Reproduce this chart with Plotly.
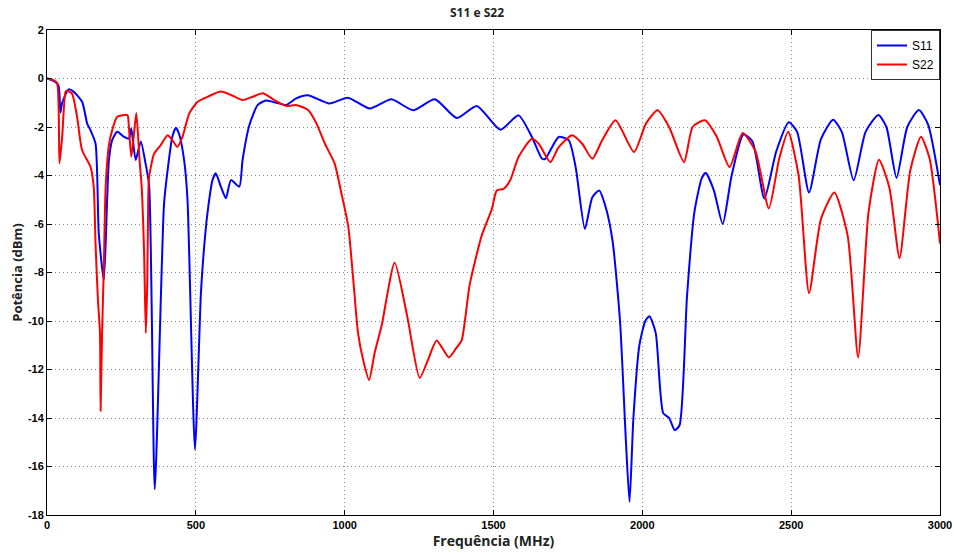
import plotly.graph_objects as go

# S11 (blue)
s11_f = [0, 28, 39, 45, 51, 73, 90, 118, 135, 146, 163, 174, 191, 202, 208, 219, 236, 259, 275, 283, 289, 298, 315, 331, 343,
         362, 393, 405, 421, 433, 444, 461, 472, 497, 517, 528, 539, 556, 567, 584, 601, 618, 646, 657, 680, 708, 736, 770,
         804, 837, 876, 949, 1011, 1084, 1157, 1230, 1303, 1377, 1444, 1523, 1584, 1629, 1663, 1674, 1719, 1753, 1776, 1807,
         1832, 1855, 1877, 1900, 1925, 1945, 1957, 1970, 1990, 2010, 2024, 2045, 2070, 2090, 2109, 2125, 2150, 2175, 2200,
         2213, 2240, 2270, 2300, 2340, 2370, 2410, 2450, 2492, 2520, 2560, 2600, 2641, 2670, 2710, 2750, 2793, 2820, 2854,
         2890, 2929, 2960, 3000]
s11_v = [0, -0.14, -0.3, -1.4, -1.0, -0.45, -0.55, -0.96, -1.86, -2.13, -2.68, -6.4, -8.3, -5.0, -3.37, -2.54, -2.2, -2.41,
         -2.48, -2.06, -2.6, -3.36, -2.6, -3.5, -4.4,
         -16.94, -5.2, -3.8, -2.4, -2.03, -2.3, -3.4, -5.0, -15.3, -8.86, -6.93, -5.56, -4.19, -3.91, -4.46, -4.94, -4.19,
         -4.46, -3.36, -1.92, -1.09, -0.91, -1.0,
         -1.09, -0.82, -0.69, -1.03, -0.79, -1.24, -0.86, -1.31, -0.86, -1.63, -1.13, -2.11, -1.52, -2.41, -3.31, -3.31,
         -2.41, -2.55, -3.66, -6.2,
         -4.9, -4.62, -5.31, -6.7, -10.0, -15.0, -17.46, -14.0, -11.0, -10.0, -9.8, -10.5, -13.8, -14.0, -14.5, -14.3, -9.0,
         -5.5, -4.1,
         -3.9, -4.6, -6.0, -4.0, -2.3, -2.6, -4.95, -3.0, -1.8, -2.2, -4.7, -2.5, -1.7, -2.2, -4.2, -2.2, -1.5, -2.0, -4.1,
         -2.0, -1.3, -1.9, -4.4]

# S22 (red)
s22_f = [0, 22, 34, 42, 51, 62, 67, 84, 101, 118, 146, 157, 163, 171, 178, 180, 185, 191, 197, 208, 219, 236, 270, 275,
         283, 290, 300, 311, 318, 326, 332, 337, 340, 343, 360, 382, 405, 421, 438, 455, 478, 506, 540, 584, 618, 657,
         691, 725, 764, 804, 837, 877, 905, 933, 966, 989, 1012, 1028, 1045, 1062, 1082, 1101, 1124, 1168, 1210, 1252,
         1280, 1309, 1350, 1376, 1393, 1420, 1461, 1494, 1511, 1534, 1556, 1584, 1629, 1652, 1691, 1719, 1764, 1798, 1832,
         1865, 1910, 1972, 2012, 2051, 2090, 2140, 2169, 2210, 2250, 2293, 2337, 2380, 2425, 2460, 2490, 2525, 2560, 2600,
         2645, 2690, 2725, 2760, 2795, 2830, 2864, 2900, 2936, 2965, 3000]
s22_v = [0, -0.07, -0.2, -3.5, -2.4, -0.55, -0.5, -0.62, -1.58, -2.96, -3.64, -4.47, -6.8, -9.1, -10.5, -13.7, -10.5, -7.75,
         -4.47, -2.75, -2.13, -1.58, -1.51, -2.0,
         -3.23, -2.55, -1.42, -3.37, -4.47, -7.1, -10.5, -8.3, -5.0, -4.06, -3.1, -2.75, -2.34, -2.54, -2.82, -2.41, -1.44,
         -0.96, -0.75, -0.54, -0.68, -0.89,
         -0.75, -0.61, -0.89, -1.13, -1.09, -1.3, -1.85, -2.67, -3.5, -4.73, -6.1, -8.17, -10.5, -11.6, -12.43, -11.3,
         -10.2, -7.6, -9.8, -12.35,
         -11.6, -10.8, -11.5, -11.1, -10.8, -8.5, -6.45, -5.4, -4.62, -4.55, -4.2, -3.24, -2.48, -2.69, -3.45, -2.83, -2.34,
         -2.69, -3.31,
         -2.55, -1.72, -3.03, -1.86, -1.31, -2.0, -3.45, -2.0, -1.72, -2.4, -3.65, -2.25, -3.0, -5.36, -3.3, -2.2, -4.0,
         -8.85, -5.8,
         -4.7, -6.5, -11.5, -5.5, -3.35, -4.5, -7.4, -3.8, -2.4, -3.3, -6.8]

x_ticks = [0, 500, 1000, 1500, 2000, 2500, 3000]
y_ticks = [2, 0, -2, -4, -6, -8, -10, -12, -14, -16, -18]
y_ticktext = [str(v) for v in y_ticks]

fig = go.Figure()
fig.add_trace(go.Scatter(x=s11_f, y=s11_v, mode="lines", name="S11",
                         line=dict(color="#0000FF", width=2, shape="spline", smoothing=0.6)))
fig.add_trace(go.Scatter(x=s22_f, y=s22_v, mode="lines", name="S22",
                         line=dict(color="#FF0000", width=2, shape="spline", smoothing=0.6)))

axis_font = dict(family="Liberation Sans Narrow, Arial Narrow, Liberation Sans", size=11, color="black")
grid_common = dict(showgrid=True, gridcolor="#888", griddash="1px,3px", gridwidth=1,
                   showline=True, linecolor="black", linewidth=1, mirror="ticks",
                   ticks="inside", ticklen=5, tickcolor="black", zeroline=False,
                   tickfont=axis_font, automargin=False)
fig.update_layout(
    width=954, height=555,
    paper_bgcolor="white", plot_bgcolor="white",
    margin=dict(l=47, r=14, t=30, b=40),
    title=dict(text="<b>S11 e S22</b>", x=0.5, xanchor="center", y=0.985, yanchor="top",
               font=dict(family="Open Sans, Liberation Sans", size=12, color="#222")),
    showlegend=True,
    legend=dict(x=1, y=1, xanchor="right", yanchor="top", bgcolor="white",
                bordercolor="#333", borderwidth=1,
                font=dict(family="Liberation Sans Narrow, Liberation Sans", size=12, color="black"),
                tracegroupgap=0),
    xaxis=dict(range=[0, 3000], tickvals=x_ticks, ticktext=[f"<b>{v}</b>" for v in x_ticks],
               title=dict(text="<b>Frequência (MHz)</b>", standoff=2,
                          font=dict(family="Open Sans, Liberation Sans", size=14, color="#222")),
               **grid_common),
    yaxis=dict(range=[-18, 2], tickvals=y_ticks, ticktext=[f"<b>{t}</b>" for t in y_ticktext],
               title=dict(text="<b>Potência (dBm)</b>", standoff=2,
                          font=dict(family="Open Sans, Liberation Sans", size=13, color="#222")),
               **grid_common),
)

fig.write_html("out.html", config={"displayModeBar": False},
               post_script="document.body.style.margin='0';document.body.style.overflow='hidden';")
